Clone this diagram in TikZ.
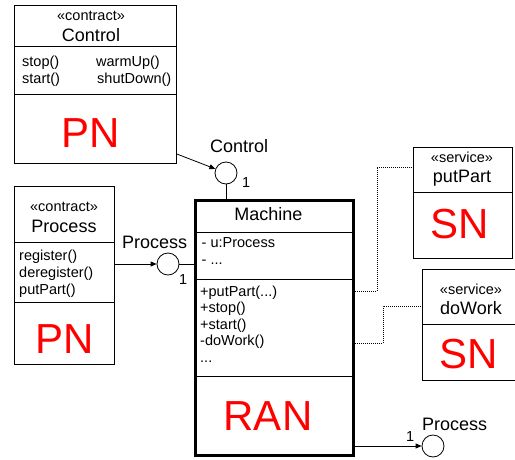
\documentclass[tikz,border=0pt]{standalone}
\usepackage{fontspec}
\setmainfont{Liberation Sans}
\usetikzlibrary{arrows.meta,calc}
\begin{document}
\begin{tikzpicture}[x=1pt,y=-1pt,
  box/.style={draw,line width=0.8pt,inner sep=0pt,anchor=north west},
  thin/.style={line width=0.8pt},
  small/.style={font=\fontsize{14.5}{17}\selectfont,inner sep=0pt},
  ttl/.style={font=\fontsize{18}{21}\selectfont,inner sep=0pt,anchor=base},
  big/.style={font=\fontsize{42}{48}\selectfont,inner sep=0pt,anchor=base,text=red},
  lolli/.style={circle,draw,line width=0.8pt,minimum size=22pt,inner sep=0pt},
  arr/.style={line width=0.8pt,-{Triangle[length=6pt,width=5pt]}},
  dots/.style={line width=0.8pt,dash pattern=on 1pt off 1pt}]
\clip (0,0) rectangle (515,459);
\fill[white] (0,0) rectangle (515,459);

% Control contract
\node[box,minimum width=162pt,minimum height=158pt] (ctrl) at (14,5) {};
\draw[thin] (ctrl.west |- 0,46) -- (ctrl.east |- 0,46);
\draw[thin] (ctrl.west |- 0,94) -- (ctrl.east |- 0,94);
\node[small,anchor=base] (ctrlst) at (91,20) {«contract»};
\node[ttl] (ctrlname) at (91,41) {Control};
\node[small,anchor=base west] (cm1) at (22,66) {stop()};
\node[small,anchor=base west] (cm2) at (22,83) {start()};
\node[small,anchor=base west] (cm3) at (96,66) {warmUp()};
\node[small,anchor=base west] (cm4) at (97,83) {shutDown()};
\node[big] (ctrlpn) at (91,147) {PN};

% Process contract
\node[box,minimum width=100pt,minimum height=178pt] (proc) at (14,186) {};
\draw[thin] (proc.west |- 0,242) -- (proc.east |- 0,242);
\draw[thin] (proc.west |- 0,302) -- (proc.east |- 0,302);
\node[small,anchor=base] (procst) at (64,211) {«contract»};
\node[ttl] (procname) at (64,232) {Process};
\node[small,anchor=base west] (pm1) at (19,260) {register()};
\node[small,anchor=base west] (pm2) at (19,277) {deregister()};
\node[small,anchor=base west] (pm3) at (19,294) {putPart()};
\node[big] (procpn) at (65,353) {PN};

% Machine
\node[draw,line width=3pt,inner sep=0pt,anchor=north west,minimum width=158pt,minimum height=255pt] (mach) at (194,199) {};
\draw[thin] (mach.west |- 0,232) -- (mach.east |- 0,232);
\draw[thin] (mach.west |- 0,279) -- (mach.east |- 0,279);
\draw[thin] (mach.west |- 0,376) -- (mach.east |- 0,376);
\node[ttl] (machname) at (268.5,220) {Machine};
\node[small,anchor=base west] (ma1) at (201.5,247) {- u:Process};
\node[small,anchor=base west] (ma2) at (201.5,264) {- ...};
\node[small,anchor=base west] (mm1) at (200,296) {+putPart(...)};
\node[small,anchor=base west] (mm2) at (200,312.5) {+stop()};
\node[small,anchor=base west] (mm3) at (200,329) {+start()};
\node[small,anchor=base west] (mm4) at (200,345.5) {-doWork()};
\node[small,anchor=base west] (mm5) at (200,362) {...};
\node[big] (machran) at (268,430) {RAN};

% Services
\node[box,minimum width=99pt,minimum height=111pt] (svc1) at (413,147) {};
\draw[thin] (svc1.west |- 0,192) -- (svc1.east |- 0,192);
\node[small,anchor=base] (s1st) at (462,162) {«service»};
\node[ttl] (s1name) at (462,182) {putPart};
\node[big] (s1sn) at (460,238) {SN};

\node[box,minimum width=100pt,minimum height=111pt] (svc2) at (422,269) {};
\draw[thin] (svc2.west |- 0,324) -- (svc2.east |- 0,324);
\node[small,anchor=base] (s2st) at (471,294) {«service»};
\node[ttl] (s2name) at (471,314) {doWork};
\node[big] (s2sn) at (468.5,368) {SN};

% Lollipops
\node[lolli] (c1) at (226,173) {};
\node[lolli] (c2) at (168,264) {};
\node[lolli] (c3) at (433,446) {};
\node[ttl,anchor=base west] (c1lab) at (210,152) {Control};
\node[small,anchor=base west] (c1m) at (242,187) {1};
\node[ttl,anchor=base west] (c2lab) at (122,248) {Process};
\node[small,anchor=base west] (c2m) at (179,284) {1};
\node[ttl,anchor=base west] (c3lab) at (422,430) {Process};
\node[small,anchor=base west] (c3m) at (406,441) {1};

% Connectors
\draw[arr] (ctrl.east |- 0,154) -- (c1);
\draw[thin] (c1) -- (c1 |- mach.north);
\draw[arr] (proc.east |- c2) -- (c2);
\draw[thin] (c2) -- (mach.west |- c2);
\draw[arr] (mach.east |- c3) -- (c3);
\coordinate (d1) at (377,167);
\coordinate (d2) at (383,306);
\draw[dots] (mach.east |- 0,291) -| (d1) -- (svc1.west |- d1);
\draw[dots] (mach.east |- 0,343) -| (d2) -- (svc2.west |- d2);
\end{tikzpicture}
\end{document}
